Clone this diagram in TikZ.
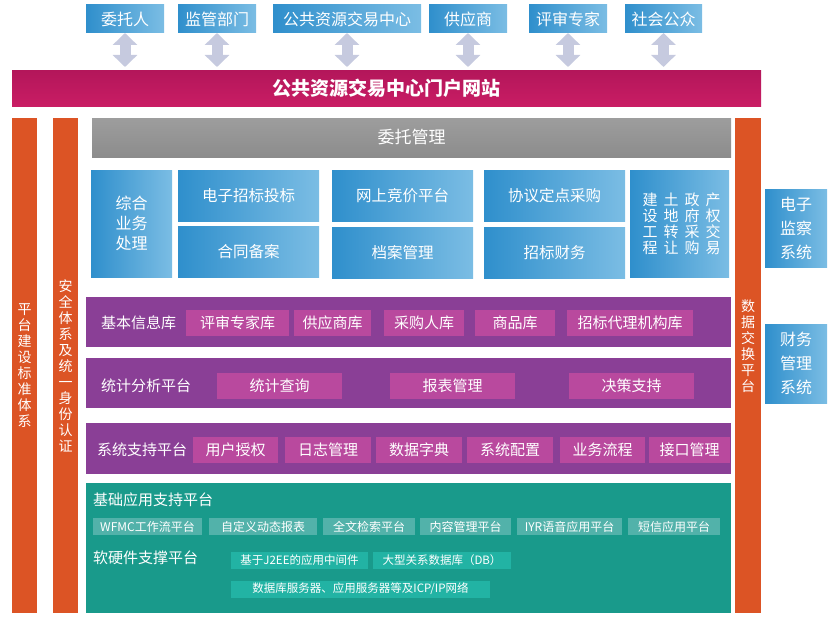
\documentclass[tikz,border=0pt]{standalone}
\usepackage{fontspec}
\setmainfont{Noto Sans CJK SC}
\usepackage{tikz}
\usetikzlibrary{arrows.meta}
\definecolor{topblue}{HTML}{2F8FCC}
\definecolor{lightblue}{HTML}{7BBDE4}
\definecolor{portalred}{HTML}{C91D64}
\definecolor{portaldark}{HTML}{B3165A}
\definecolor{bandorange}{HTML}{DC5425}
\definecolor{bargray}{HTML}{8C8C8C}
\definecolor{libpurple}{HTML}{8A3F96}
\definecolor{itempink}{HTML}{B9499E}
\definecolor{baseteal}{HTML}{199A8B}
\definecolor{tealitem}{HTML}{52B2AA}
\definecolor{hwitem}{HTML}{22B3A4}
\definecolor{arrowgray}{HTML}{C6CADF}

\begin{document}
\begin{tikzpicture}[x=1pt,y=-1pt]
          \tikzstyle{box}=[inner sep=0pt,outer sep=0pt,text=white]
          \tikzstyle{bluebox}=[box,left color=topblue,right color=lightblue]
          \tikzstyle{bandbox}=[box,fill=bandorange,minimum width=25,minimum height=495,align=center]
          \tikzstyle{libbox}=[box,fill=libpurple,minimum width=645,minimum height=50]
          \tikzstyle{pinkbox}=[box,fill=itempink,minimum height=26,font=\fontsize{15}{17}\selectfont]
          \tikzstyle{tealbox}=[box,fill=tealitem,minimum height=17,font=\fontsize{12}{14}\selectfont]
          \tikzstyle{hwbox}=[box,fill=hwitem,minimum height=17,font=\fontsize{11.5}{13}\selectfont]
          \tikzstyle{rowlabel}=[box,anchor=west,font=\fontsize{15}{17}\selectfont]
          \tikzstyle{vtext}=[box,align=center,font=\fontsize{14}{16}\selectfont]
          \tikzstyle{portarrow}=[draw=arrowgray,line width=11pt,{Triangle[width=24pt,length=12pt]}-{Triangle[width=24pt,length=12pt]},shorten >=3pt]
          \useasboundingbox (0,0) rectangle (840,618);
          % portal
          \node[box,top color=portaldark,bottom color=portalred,minimum width=749,minimum height=36,
            font=\fontsize{19}{21}\selectfont\bfseries] (portal) at (386.5,88) {公共资源交易中心门户网站};
          \foreach \n/\t/\a/\b in {wt/委托人/86/164, jg/监管部门/178/256, gg/公共资源交易中心/273/421,
              gy/供应商/429/507, ps/评审专家/529/607, sh/社会公众/625/702}{
            \node[bluebox,minimum width={\b-\a},minimum height=28,font=\fontsize{16}{18}\selectfont] (\n) at ({(\a+\b)/2},19) {\t};
            \draw[portarrow] (\n.south) -- (\n.south |- portal.north);
            }
          % side bands
          \node[bandbox] (std) at (24.5,365.5) {};
          \node[vtext] at (std) {平\\台\\建\\设\\标\\准\\体\\系};
          \node[bandbox] (sec) at (65.5,365.5) {};
          \node[vtext] at (sec) {安\\全\\体\\系\\及\\统\\一\\身\\份\\认\\证};
          \node[bandbox,minimum width=26] (exch) at (748,365.5) {};
          \node[vtext] at (748,346) {数\\据\\交\\换\\平\\台};
          \node[bluebox,minimum width=62,minimum height=78,align=center,font=\fontsize{16}{24}\selectfont] (jc) at (796,228) {电子\\监察\\系统};
          \node[bluebox,minimum width=62,minimum height=79,align=center,font=\fontsize{16}{24}\selectfont] (cwgl) at (796,363.5) {财务\\管理\\系统};
          % entrust
          \node[box,top color=bargray!85,bottom color=bargray,minimum width=639,minimum height=39,
            font=\fontsize{17}{19}\selectfont] (wtgl) at (411.5,137.5) {委托管理};
          \node[bluebox,minimum width=81,minimum height=107,align=center,font=\fontsize{16}{20}\selectfont] (zh) at (131.5,223.5) {综合\\业务\\处理};
          \foreach \n/\t/\x/\y in {dz/电子招标投标/248.5/196, ht/合同备案/248.5/252, wj/网上竞价平台/402.5/196,
              da/档案管理/402.5/253, xy/协议定点采购/554.5/196, cw/招标财务/554.5/253}
            \node[bluebox,minimum width=141,minimum height=51,font=\fontsize{15.5}{17}\selectfont] (\n) at (\x,\y) {\t};
          \node[bluebox,minimum width=99,minimum height=107] (jy) at (679.5,223.5) {};
          \foreach \n/\t/\x in {col1/建\\设\\工\\程/650, col2/土\\地\\转\\让/671, col3/政\\府\\采\\购/692, col4/产\\权\\交\\易/713}
            \node[vtext,font=\fontsize{15}{16}\selectfont] (\n) at (\x,224) {\t};
          % libraries
          \node[libbox] (info) at (408.5,322) {};
          \node[rowlabel] (infol) at (101,323) {基本信息库};
          \foreach \n/\t/\a/\b in {info1/评审专家库/186/289, info2/供应商库/294/371, info3/采购人库/384/464,
              info4/商品库/475/555, info5/招标代理机构库/567/693}
            \node[pinkbox,minimum width={\b-\a}] (\n) at ({(\a+\b)/2},323) {\t};
          \node[libbox] (stat) at (408.5,383) {};
          \node[rowlabel] (statl) at (101,386) {统计分析平台};
          \foreach \n/\t/\a/\b in {stat1/统计查询/217/342, stat2/报表管理/390/515, stat3/决策支持/569/694}
            \node[pinkbox,minimum width={\b-\a}] (\n) at ({(\a+\b)/2},386) {\t};
          \node[libbox,minimum height=51] (sys) at (408.5,448.5) {};
          \node[rowlabel] (sysl) at (97,450) {系统支持平台};
          \foreach \n/\t/\a/\b in {sys1/用户授权/193/278, sys2/日志管理/285/371, sys3/数据字典/376/462,
              sys4/系统配置/467/553, sys5/业务流程/560/645, sys6/接口管理/649/730}
            \node[pinkbox,minimum width={\b-\a}] (\n) at ({(\a+\b)/2},450) {\t};
          % base platform
          \node[box,fill=baseteal,minimum width=645,minimum height=130] (base) at (408.5,548) {};
          \node[rowlabel] (basel) at (93,500) {基础应用支持平台};
          \foreach \n/\t/\a/\b in {base1/WFMC工作流平台/93/202, base2/自定义动态报表/209/317, base3/全文检索平台/323/415,
              base4/内容管理平台/420/511, base5/IYR语音应用平台/517/622, base6/短信应用平台/628/720}
            \node[tealbox,minimum width={\b-\a}] (\n) at ({(\a+\b)/2},526.5) {\t};
          \node[rowlabel] (hwl) at (93,558) {软硬件支撑平台};
          \node[hwbox,minimum width=137] (hw1) at (299.5,560.5) {基于J2EE的应用中间件};
          \node[hwbox,minimum width=138] (hw2) at (442,560.5) {大型关系数据库（DB）};
          \node[hwbox,minimum width=259] (hw3) at (360.5,589) {数据库服务器、应用服务器等及ICP/IP网络};
        \end{tikzpicture}
\end{document}
